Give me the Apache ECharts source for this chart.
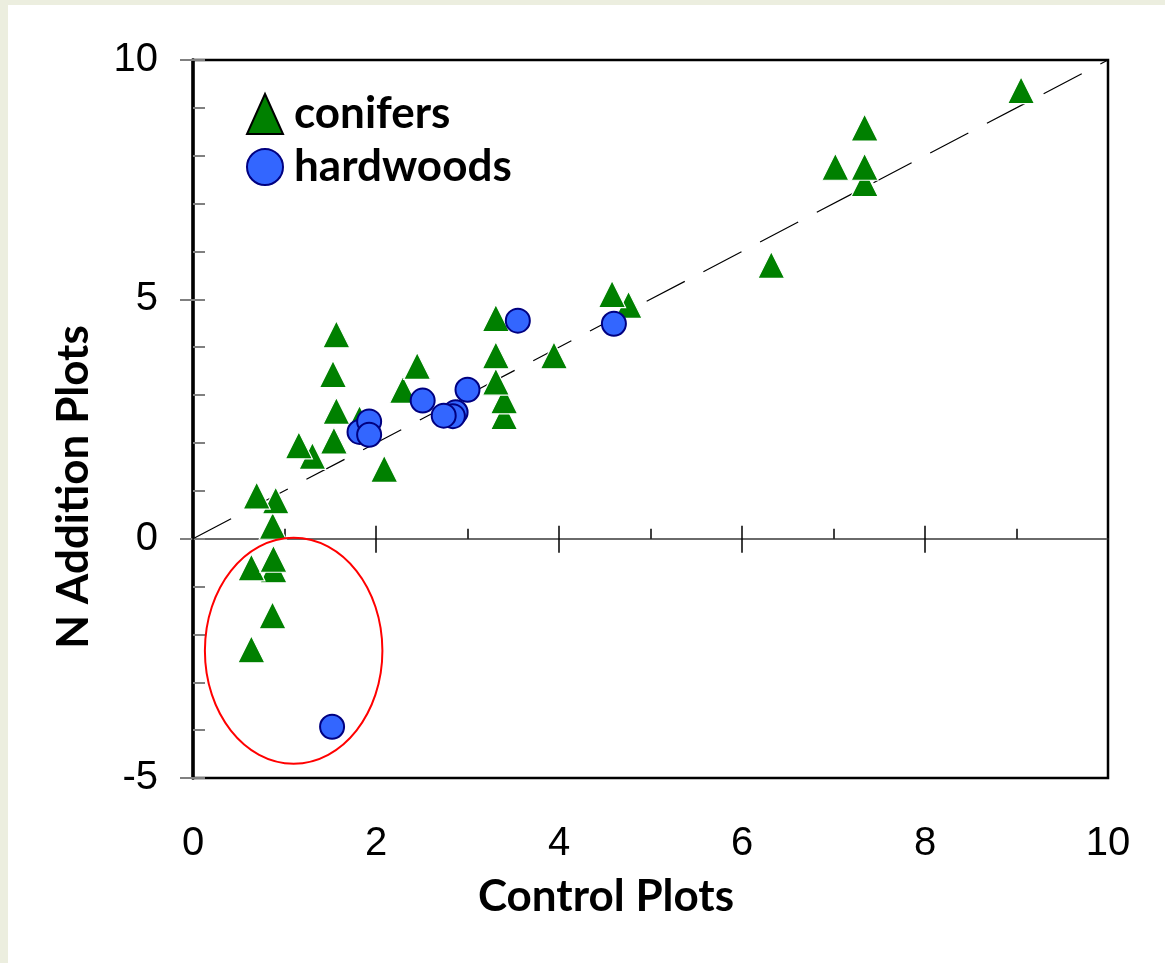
<!DOCTYPE html>
<html>
<head>
<meta charset="utf-8">
<script src="https://cdn.jsdelivr.net/npm/echarts@6/dist/echarts.min.js"></script>
<style>
  html, body { margin: 0; padding: 0; background: #ECEEDF; }
  #sheet { position: absolute; left: 8px; top: 5px; right: 0; bottom: 0; background: #ffffff; }
  #chart { position: absolute; left: 0; top: 0; width: 1165px; height: 963px; }
</style>
</head>
<body>
<div id="sheet"></div>
<div id="chart"></div>
<script>
// N addition plots vs control plots, by forest type
const seriesNames = ['conifers', 'hardwoods'];

// conifer stands [control, N addition], listed bottom-up so upper markers overlap lower ones
const conifers = [
  [0.638, -2.31], [0.869, -1.60], [0.88, -0.64], [0.638, -0.60], [0.879, -0.42],
  [0.871, 0.27], [0.904, 0.80], [0.696, 0.90], [2.09, 1.46], [1.305, 1.73],
  [1.157, 1.95], [1.54, 2.05], [1.82, 2.50], [3.40, 2.56], [1.567, 2.67],
  [3.40, 2.89], [2.295, 3.11], [3.31, 3.28], [1.53, 3.44], [2.45, 3.61],
  [3.31, 3.83], [3.945, 3.83], [1.567, 4.27], [3.31, 4.61], [4.76, 4.885],
  [4.58, 5.11], [6.32, 5.72], [7.34, 7.43], [7.02, 7.77], [7.34, 7.77],
  [7.34, 8.59], [9.05, 9.37]
];

// hardwood stands [control, N addition]
const hardwoods = [
  [1.52, -3.93], [1.82, 2.23], [1.925, 2.45], [1.925, 2.17],
  [2.87, 2.64], [2.84, 2.56], [2.74, 2.57], [2.51, 2.885],
  [3.00, 3.11], [3.55, 4.555], [4.60, 4.49]
];

// 1:1 reference line
const oneToOne = [[0, 0], [10, 10]];

// highlighted group: [centre x, centre y, radius x, radius y] in data units
const highlight = [[1.10, -2.34, 0.97, 2.36]];

const xRange = { min: 0, max: 10, interval: 2 };
const yRange = { min: -5, max: 10, interval: 5 };

const tickFont = { fontFamily: '"Liberation Sans", Arial, sans-serif', fontSize: 40, color: '#000' };
const titleFont = '"Lato", "Open Sans", sans-serif';

const chart = echarts.init(document.getElementById('chart'), null, { renderer: 'canvas' });

chart.setOption({
  backgroundColor: 'transparent',
  animation: false,
  grid: {
    left: 193, right: 57, top: 60, bottom: 185,
    show: true, borderColor: '#000', borderWidth: 2.5, backgroundColor: 'transparent'
  },
  xAxis: [
    {
      type: 'value', min: xRange.min, max: xRange.max, interval: xRange.interval,
      position: 'bottom',
      axisLine: { show: true, onZero: true, onZeroAxisIndex: 0, lineStyle: { color: '#6a6a6a', width: 2 } },
      axisTick: { show: true, inside: true, length: 13, lineStyle: { color: '#000', width: 1.5 } },
      minorTick: { show: true, splitNumber: 2, length: 10, lineStyle: { color: '#000', width: 1.5 } },
      axisLabel: Object.assign({ margin: 46 }, tickFont),
      splitLine: { show: false }
    },
    {
      type: 'value', min: xRange.min, max: xRange.max, interval: xRange.interval,
      position: 'bottom',
      axisLine: { show: false, onZero: true, onZeroAxisIndex: 0 },
      axisTick: { show: true, inside: false, length: 14, lineStyle: { color: '#000', width: 1.5 } },
      axisLabel: { show: false },
      splitLine: { show: false }
    }
  ],
  yAxis: [
    {
      type: 'value', min: yRange.min, max: yRange.max, interval: yRange.interval,
      position: 'left',
      axisLine: { show: true, onZero: false, lineStyle: { color: '#000', width: 3.5 } },
      axisTick: { show: true, inside: false, length: 13, lineStyle: { color: '#808080', width: 2 } },
      axisLabel: Object.assign({ margin: 35 }, tickFont),
      splitLine: { show: false }
    },
    {
      type: 'value', min: yRange.min, max: yRange.max, interval: yRange.interval,
      position: 'left',
      axisLine: { show: false, onZero: false },
      axisTick: { show: true, inside: true, length: 12, lineStyle: { color: '#808080', width: 2 } },
      minorTick: { show: true, splitNumber: 5, length: 12, lineStyle: { color: '#808080', width: 2 } },
      axisLabel: { show: false },
      splitLine: { show: false }
    }
  ],
  legend: {
    orient: 'vertical',
    left: 246, top: 92, padding: 0,
    itemWidth: 36, itemHeight: 40, itemGap: 9,
    selectedMode: false,
    textStyle: { fontFamily: titleFont, fontWeight: 'bold', fontSize: 44, color: '#000', lineHeight: 40, padding: [0, 0, 0, 6] },
    data: [
      { name: seriesNames[0], icon: 'triangle', itemStyle: { color: '#008000', borderColor: '#000', borderWidth: 2 } },
      { name: seriesNames[1], icon: 'circle' }
    ]
  },
  graphic: [
    {
      type: 'text', x: 74, y: 487, rotation: Math.PI / 2,
      style: { text: 'N Addition Plots', font: 'bold 44px ' + titleFont, fill: '#000', align: 'center', verticalAlign: 'middle' }
    },
    {
      type: 'text', x: 606, y: 897,
      style: { text: 'Control Plots', font: 'bold 44px ' + titleFont, fill: '#000', align: 'center', verticalAlign: 'middle' }
    }
  ],
  series: [
    {
      type: 'line', data: oneToOne, xAxisIndex: 0, yAxisIndex: 0,
      symbol: 'none', silent: true, z: 1,
      lineStyle: { color: '#000', width: 1.2, type: [43, 21] }
    },
    {
      name: seriesNames[0], type: 'scatter', data: conifers, xAxisIndex: 0, yAxisIndex: 0,
      symbol: 'triangle', symbolSize: [27, 27], z: 3,
      itemStyle: { color: '#008000', borderColor: '#ffffff', borderWidth: 1.2, opacity: 1 }
    },
    {
      name: seriesNames[1], type: 'scatter', data: hardwoods, xAxisIndex: 0, yAxisIndex: 0,
      symbol: 'circle', symbolSize: 24, z: 4,
      itemStyle: { color: '#3366FF', borderColor: '#000080', borderWidth: 2, opacity: 1 }
    },
    {
      type: 'custom', data: highlight, xAxisIndex: 0, yAxisIndex: 0, silent: true, z: 5,
      renderItem: function (params, api) {
        const c = api.coord([api.value(0), api.value(1)]);
        const s = api.size([api.value(2), api.value(3)]);
        return {
          type: 'ellipse',
          shape: { cx: c[0], cy: c[1], rx: s[0], ry: s[1] },
          style: { fill: 'none', stroke: '#ff0000', lineWidth: 2 }
        };
      }
    }
  ]
});
</script>
</body>
</html>
